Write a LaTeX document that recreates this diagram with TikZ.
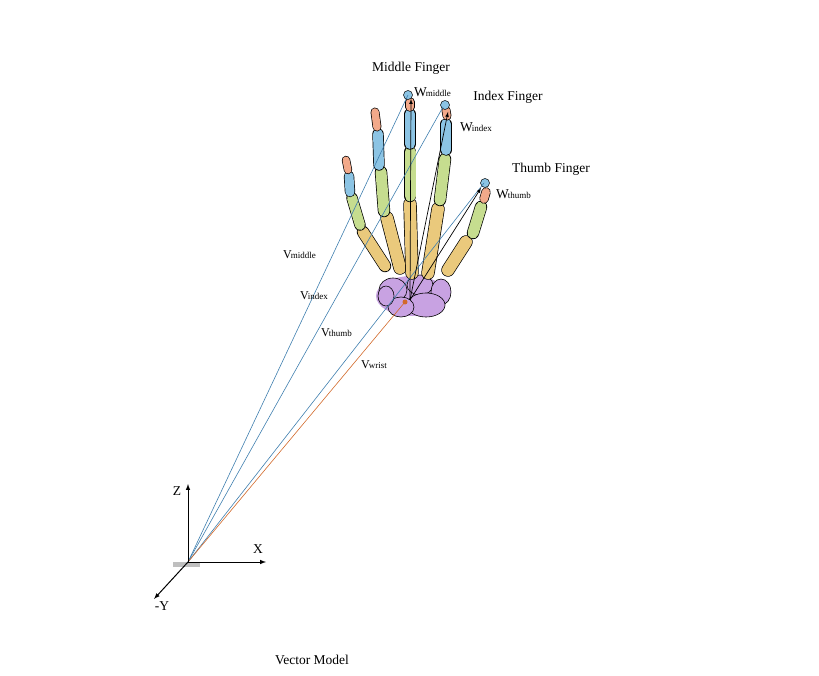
\documentclass[tikz,border=0pt]{standalone}
\usepackage{fontspec}
\setmainfont{Liberation Serif}
\begin{document}
\begin{tikzpicture}[x=1pt,y=-1pt,
  lbl/.style={font=\fontsize{13.5}{15}\selectfont, inner sep=0pt},
  vl/.style={font=\fontsize{12}{13}\selectfont, inner sep=0pt},
  axis/.style={-latex, line width=1pt},
  vec/.style={line width=0.6pt},
  arr/.style={-latex, line width=0.7pt}]
\useasboundingbox (0,0) rectangle (819,676);
\definecolor{tipc}{HTML}{F2A98A}
\definecolor{midc}{HTML}{8CC4E4}
\definecolor{proxc}{HTML}{C6DD8F}
\definecolor{metac}{HTML}{EAC97C}
\definecolor{carpc}{HTML}{C8A2E2}
\definecolor{blueline}{HTML}{3F7FAF}
\definecolor{orline}{HTML}{D2692A}
\newcommand{\bonepart}[4]{%
  \draw[line width=#2+1.4pt, line cap=round] #3 -- #4;
  \draw[line width=#2, line cap=round, #1] #3 -- #4;}
% carpals
\fill[carpc] (412,296) ellipse (36 and 20);
\draw[line width=0.6pt, fill=carpc] (393,290) ellipse (14 and 12);
\draw[line width=0.6pt, fill=carpc] (420,285) ellipse (13 and 10);
\draw[line width=0.6pt, fill=carpc] (441,292) ellipse (10 and 13);
\draw[line width=0.6pt, fill=carpc] (426,305) ellipse (19 and 12);
\draw[line width=0.6pt, fill=carpc] (401,307) ellipse (13 and 10);
\draw[line width=0.6pt, fill=carpc] (386,296) ellipse (8 and 10);
% fingers
\bonepart{metac}{11pt}{(385,266)}{(363,232)}
\bonepart{proxc}{10pt}{(360,225)}{(352,198)}
\bonepart{midc}{9pt}{(350,192)}{(349,176)}
\bonepart{tipc}{7pt}{(348,170)}{(346,160)}
\bonepart{metac}{12pt}{(400,268)}{(387,218)}
\bonepart{proxc}{11pt}{(384,211)}{(381,172)}
\bonepart{midc}{10pt}{(379,165)}{(378,134)}
\bonepart{tipc}{7.5pt}{(377,127)}{(375,112)}
\bonepart{metac}{12pt}{(412,273)}{(410,204)}
\bonepart{proxc}{11pt}{(410,196)}{(410,152)}
\bonepart{midc}{10pt}{(410,144)}{(410,114)}
\bonepart{tipc}{8pt}{(410,107)}{(410,102)}
\bonepart{metac}{12pt}{(428,273)}{(438,209)}
\bonepart{proxc}{11pt}{(440,200)}{(445,159)}
\bonepart{midc}{10pt}{(446,150)}{(446,124)}
\bonepart{tipc}{7.5pt}{(447,116)}{(446,110)}
\bonepart{metac}{12pt}{(448,270)}{(466,242)}
\bonepart{proxc}{11pt}{(473,233)}{(481,207)}
\bonepart{tipc}{8pt}{(484,199)}{(486,192)}
\draw[fill=midc, line width=0.5pt] (408,95) circle (4.5);
\draw[fill=midc, line width=0.5pt] (445,105) circle (4.5);
\draw[fill=midc, line width=0.5pt] (485,183) circle (4.5);
% coordinates
\coordinate (O) at (188,562);
\coordinate (Zt) at (188,484);
\coordinate (Xt) at (266,562);
\coordinate (Yt) at (154,599);
\coordinate (wm) at (408,95);
\coordinate (wi) at (443,107);
\coordinate (wt) at (484,183);
\coordinate (wr) at (405,302);
\coordinate (ws) at (410,300);
% vectors
\draw[vec, blueline] (O) -- (wm);
\draw[vec, blueline] (O) -- (wi);
\draw[vec, blueline] (O) -- (wt);
\draw[vec, orline] (O) -- (wr);
\fill[orline] (wr) circle (2.5);
\draw[arr] (ws) -- (411,99);
\draw[arr] (ws) -- (448,112);
\draw[arr] (ws) -- (481,188);
% axes
\fill[gray!50] (173,562) rectangle (200,567);
\draw[axis] (O) -- (Zt);
\draw[axis] (O) -- (Xt);
\draw[axis] (O) -- (Yt);
\node[lbl] (zl) at (177,491) {Z};
\node[lbl] (xl) at (258,549) {X};
\node[lbl] (yl) at (162,606) {-Y};
% labels
\node[lbl] (mf) at (411,68) {Middle Finger};
\node[lbl] (if) at (508,97) {Index Finger};
\node[lbl] (tf) at (551,169) {Thumb Finger};
\node[lbl, anchor=west] (wml) at (414,92) {W\kern-1pt{\fontsize{9}{9}\selectfont middle}};
\node[lbl, anchor=west] (wil) at (460,127) {W\kern-1pt{\fontsize{9}{9}\selectfont index}};
\node[lbl, anchor=west] (wtl) at (496,194) {W\kern-1pt{\fontsize{9}{9}\selectfont thumb}};
\node[vl, anchor=west] (vml) at (283,255) {V\kern-1pt{\fontsize{9}{9}\selectfont middle}};
\node[vl, anchor=west] (vil) at (300,296) {V\kern-1pt{\fontsize{9}{9}\selectfont index}};
\node[vl, anchor=west] (vtl) at (321,333) {V\kern-1pt{\fontsize{9}{9}\selectfont thumb}};
\node[vl, anchor=west] (vwl) at (361,365) {V\kern-1pt{\fontsize{9}{9}\selectfont wrist}};
\node[lbl] (vm) at (312,660) {Vector Model};
\end{tikzpicture}
\end{document}
